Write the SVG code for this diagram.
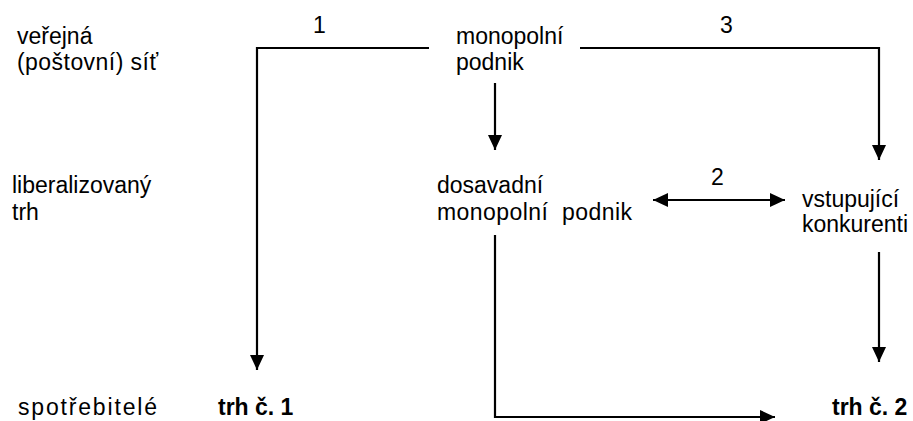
<svg xmlns="http://www.w3.org/2000/svg" width="913" height="421" viewBox="0 0 913 421">
<style>
text{font-family:"Liberation Sans",Arial,sans-serif;font-size:23px;fill:#000;white-space:pre}
.b{font-weight:bold}
.c{fill:none;stroke:#000;stroke-width:2.2}
</style>
<defs>
<marker id="ah" viewBox="0 0 15 14" refX="15" refY="7" markerWidth="15" markerHeight="14" markerUnits="userSpaceOnUse" orient="auto-start-reverse">
<path d="M0,0 L15,7 L0,14 Z" fill="#000"/>
</marker>
</defs>
<rect width="913" height="421" fill="#fff"/>
<g id="row-labels">
<text x="17" y="44">veřejná</text>
<text x="17" y="70" textLength="141" lengthAdjust="spacing">(poštovní) síť</text>
<text x="12" y="193">liberalizovaný</text>
<text x="12" y="220">trh</text>
<text x="18" y="415" textLength="139" lengthAdjust="spacing">spotřebitelé</text>
</g>
<g id="node-monopolni">
<text x="456" y="44">monopolní</text>
<text x="456" y="70">podnik</text>
</g>
<g id="node-dosavadni">
<text x="437" y="193">dosavadní</text>
<text x="437" y="220" textLength="195" lengthAdjust="spacing">monopolní  podnik</text>
</g>
<g id="node-vstupujici">
<text x="802" y="207">vstupující</text>
<text x="802" y="232">konkurenti</text>
</g>
<g id="node-trh1">
<text class="b" x="218" y="415">trh č. 1</text>
</g>
<g id="node-trh2">
<text class="b" x="832" y="415">trh č. 2</text>
</g>
<g id="connectors">
<path class="c" d="M429,48 H257 V370" marker-end="url(#ah)"/>
<path class="c" d="M495,83 V150" marker-end="url(#ah)"/>
<path class="c" d="M580,48 H879 V160" marker-end="url(#ah)"/>
<path class="c" d="M653,200 H785" marker-start="url(#ah)" marker-end="url(#ah)"/>
<path class="c" d="M879,252 V362" marker-end="url(#ah)"/>
<path class="c" d="M495,235 V417 H775" marker-end="url(#ah)"/>
<text x="313" y="33">1</text>
<text x="711" y="185">2</text>
<text x="720" y="33">3</text>
</g>
</svg>
